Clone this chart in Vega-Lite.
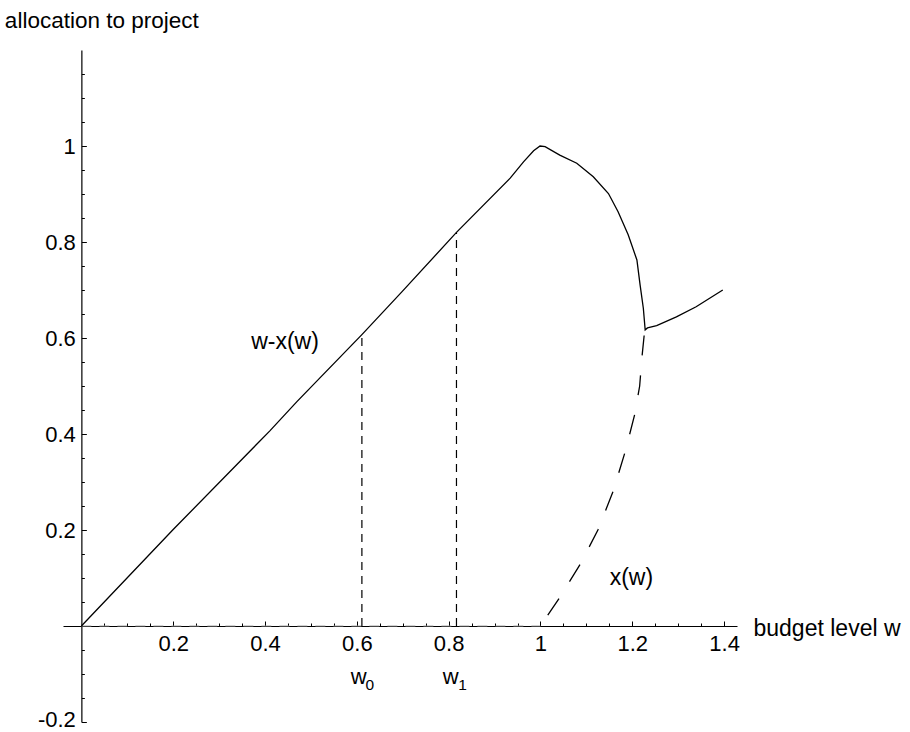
{
  "$schema": "https://vega.github.io/schema/vega-lite/v6.json",
  "autosize": {"type": "none"},
  "padding": {"left": 63, "top": 50, "right": 173, "bottom": 10},
  "width": 674,
  "height": 672,
  "background": "white",
  "config": {"view": {"stroke": null}, "font": "Liberation Sans"},
  "datasets": {
    "solid": [
      {"i": 0, "x": 0, "y": 0},
      {"i": 1, "x": 0.2, "y": 0.201},
      {"i": 2, "x": 0.41, "y": 0.406},
      {"i": 3, "x": 0.47, "y": 0.468},
      {"i": 4, "x": 0.611, "y": 0.607},
      {"i": 5, "x": 0.698, "y": 0.696},
      {"i": 6, "x": 0.817, "y": 0.82},
      {"i": 7, "x": 0.934, "y": 0.933},
      {"i": 8, "x": 0.963, "y": 0.967},
      {"i": 9, "x": 0.985, "y": 0.99},
      {"i": 10, "x": 0.999, "y": 1.0},
      {"i": 11, "x": 1.01, "y": 0.9985},
      {"i": 12, "x": 1.042, "y": 0.981},
      {"i": 13, "x": 1.079, "y": 0.964},
      {"i": 14, "x": 1.115, "y": 0.936},
      {"i": 15, "x": 1.148, "y": 0.901},
      {"i": 16, "x": 1.169, "y": 0.863},
      {"i": 17, "x": 1.191, "y": 0.815},
      {"i": 18, "x": 1.21, "y": 0.7625},
      {"i": 19, "x": 1.217, "y": 0.71},
      {"i": 20, "x": 1.224, "y": 0.662},
      {"i": 21, "x": 1.228, "y": 0.617},
      {"i": 22, "x": 1.233, "y": 0.621},
      {"i": 23, "x": 1.253, "y": 0.626},
      {"i": 24, "x": 1.296, "y": 0.644},
      {"i": 25, "x": 1.339, "y": 0.665},
      {"i": 26, "x": 1.397, "y": 0.7}
    ],
    "dashed": [
      {"i": 0, "x": 1.0, "y": 0.0},
      {"i": 1, "x": 1.041, "y": 0.058},
      {"i": 2, "x": 1.088, "y": 0.131},
      {"i": 3, "x": 1.125, "y": 0.2},
      {"i": 4, "x": 1.158, "y": 0.28},
      {"i": 5, "x": 1.185, "y": 0.365},
      {"i": 6, "x": 1.205, "y": 0.44},
      {"i": 7, "x": 1.216, "y": 0.5},
      {"i": 8, "x": 1.221, "y": 0.56},
      {"i": 9, "x": 1.227, "y": 0.617}
    ],
    "zero": [
      {"i": 0, "x": 0, "y": 0},
      {"i": 1, "x": 1, "y": 0}
    ],
    "vlines": [
      {"x": 0.611, "y": 0, "y2": 0.607},
      {"x": 0.817, "y": 0, "y2": 0.82}
    ],
    "labels": [
      {"x": 0.4435, "y": 0.5765, "text": "w-x(w)"},
      {"x": 1.198, "y": 0.0854, "text": "x(w)"}
    ],
    "wlabels": [
      {"x": 0.604, "y": -0.121, "text": "w"},
      {"x": 0.8046, "y": -0.121, "text": "w"}
    ],
    "subs": [
      {"x": 0.628, "y": -0.133, "text": "0"},
      {"x": 0.83, "y": -0.133, "text": "1"}
    ]
  },
  "encoding": {
    "x": {
      "field": "x",
      "type": "quantitative",
      "scale": {"domain": [-0.04, 1.428], "nice": false, "zero": false},
      "axis": {
        "values": [0.05, 0.1, 0.15, 0.2, 0.25, 0.3, 0.35, 0.4, 0.45, 0.5, 0.55, 0.6, 0.65, 0.7, 0.75, 0.8, 0.85, 0.9, 0.95, 1, 1.05, 1.1, 1.15, 1.2, 1.25, 1.3, 1.35, 1.4],
        "title": "budget level w",
        "titleX": 690,
        "titleY": 9,
        "titleAlign": "left",
        "titleBaseline": "alphabetic",
        "titleAngle": 0,
        "titleFont": "Liberation Sans",
        "titleFontSize": 23,
        "titleFontWeight": "normal",
        "titleColor": "black",
        "offset": -96,
        "domainColor": "black",
        "domainWidth": 1.2,
        "tickColor": "black",
        "tickWidth": 1,
        "tickSize": {"condition": {"test": "abs(datum.value*5-round(datum.value*5))<0.001", "value": -5}, "value": -3},
        "labelExpr": "abs(datum.value*5-round(datum.value*5))<0.001 ? toString(datum.value) : ''",
        "labelFont": "Liberation Sans",
        "labelFontSize": 22,
        "labelColor": "black",
        "labelPadding": 12,
        "labelFlush": false,
        "labelOverlap": false,
        "grid": false
      }
    },
    "y": {
      "field": "y",
      "type": "quantitative",
      "scale": {"domain": [-0.2, 1.2], "nice": false, "zero": false},
      "axis": {
        "values": [-0.2, -0.15, -0.1, -0.05, 0.05, 0.1, 0.15, 0.2, 0.25, 0.3, 0.35, 0.4, 0.45, 0.5, 0.55, 0.6, 0.65, 0.7, 0.75, 0.8, 0.85, 0.9, 0.95, 1, 1.05, 1.1, 1.15],
        "title": "allocation to project",
        "titleX": -77,
        "titleY": -23,
        "titleAlign": "left",
        "titleBaseline": "alphabetic",
        "titleAngle": 0,
        "titleFont": "Liberation Sans",
        "titleFontSize": 22.5,
        "titleFontWeight": "normal",
        "titleColor": "black",
        "offset": -18.37,
        "domainColor": "black",
        "domainWidth": 1.2,
        "tickColor": "black",
        "tickWidth": 1,
        "tickSize": {"condition": {"test": "abs(datum.value*5-round(datum.value*5))<0.001", "value": -5}, "value": -3},
        "labelExpr": "abs(datum.value*5-round(datum.value*5))<0.001 ? toString(datum.value) : ''",
        "labelOffset": {"condition": {"test": "datum.value < -0.19", "value": -3}, "value": 0},
        "labelFont": "Liberation Sans",
        "labelFontSize": 22,
        "labelColor": "black",
        "labelPadding": 11,
        "labelFlush": false,
        "labelOverlap": false,
        "grid": false
      }
    }
  },
  "layer": [
    {
      "data": {"name": "zero"},
      "mark": {"type": "line", "color": "#999999", "strokeWidth": 1.5, "strokeDash": [10, 8], "opacity": 0.6},
      "encoding": {"order": {"field": "i"}}
    },
    {
      "data": {"name": "vlines"},
      "mark": {"type": "rule", "color": "black", "strokeWidth": 1.2, "strokeDash": [8, 6]},
      "encoding": {"y2": {"field": "y2"}}
    },
    {
      "data": {"name": "solid"},
      "mark": {"type": "line", "color": "black", "strokeWidth": 1.3},
      "encoding": {"order": {"field": "i"}}
    },
    {
      "data": {"name": "dashed"},
      "mark": {"type": "line", "color": "black", "strokeWidth": 1.3, "strokeDash": [20, 20], "strokeDashOffset": 27},
      "encoding": {"order": {"field": "i"}}
    },
    {
      "data": {"name": "labels"},
      "mark": {"type": "text", "font": "Liberation Sans", "fontSize": 23, "align": "center", "baseline": "alphabetic", "color": "black"},
      "encoding": {"text": {"field": "text"}}
    },
    {
      "data": {"name": "wlabels"},
      "mark": {"type": "text", "font": "Liberation Sans", "fontSize": 22, "align": "center", "baseline": "alphabetic", "color": "black"},
      "encoding": {"text": {"field": "text"}}
    },
    {
      "data": {"name": "subs"},
      "mark": {"type": "text", "font": "Liberation Sans", "fontSize": 15.5, "align": "center", "baseline": "alphabetic", "color": "black"},
      "encoding": {"text": {"field": "text"}}
    }
  ]
}
